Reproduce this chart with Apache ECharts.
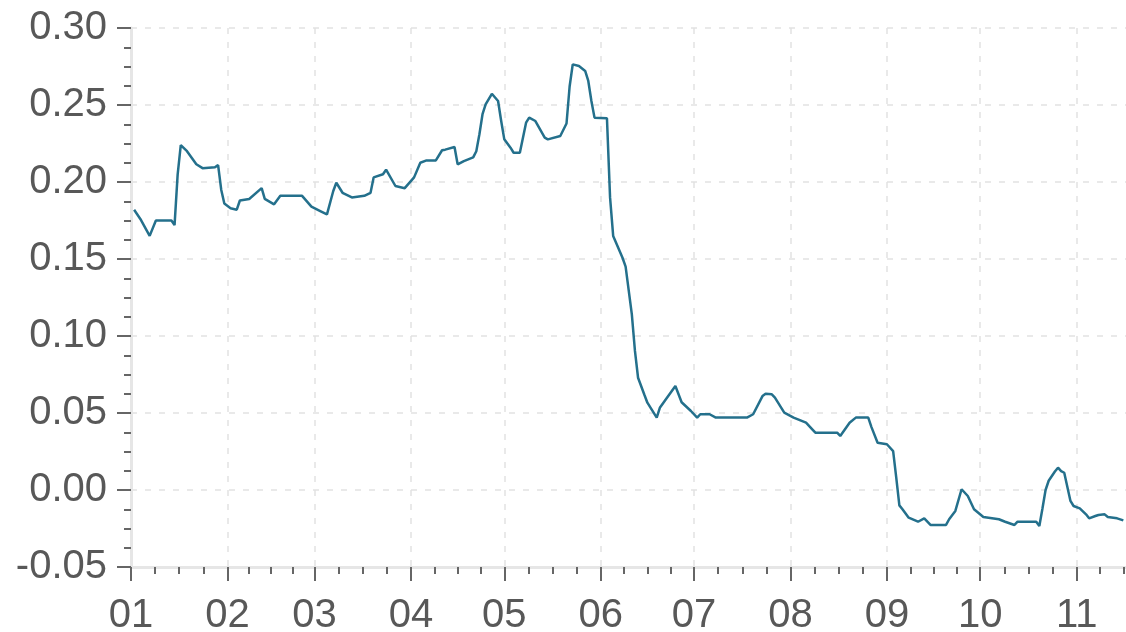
<!DOCTYPE html>
<html>
<head>
<meta charset="utf-8">
<script src="https://cdn.jsdelivr.net/npm/echarts@6/dist/echarts.min.js"></script>
<style>
html,body{margin:0;padding:0;background:#fff;overflow:hidden;}
#chart{width:1126px;height:632px;}
</style>
</head>
<body>
<div id="chart"></div>
<script>
const dates = [
'2019-01-02','2019-01-04','2019-01-07','2019-01-09','2019-01-14','2019-01-15','2019-01-16','2019-01-17','2019-01-19','2019-01-22',
'2019-01-24','2019-01-28','2019-01-29','2019-01-30','2019-01-31','2019-02-02','2019-02-04','2019-02-05','2019-02-08','2019-02-12',
'2019-02-13','2019-02-16','2019-02-18','2019-02-25','2019-02-28','2019-03-03','2019-03-05','2019-03-07','2019-03-08','2019-03-10',
'2019-03-13','2019-03-17','2019-03-19','2019-03-20','2019-03-23','2019-03-24','2019-03-27','2019-03-30','2019-04-02','2019-04-04',
'2019-04-06','2019-04-09','2019-04-11','2019-04-12','2019-04-15','2019-04-16','2019-04-18','2019-04-21','2019-04-22','2019-04-23',
'2019-04-24','2019-04-25','2019-04-27','2019-04-29','2019-04-30','2019-05-01','2019-05-03','2019-05-04','2019-05-06','2019-05-08',
'2019-05-09','2019-05-11','2019-05-14','2019-05-15','2019-05-19','2019-05-21','2019-05-22','2019-05-23','2019-05-25','2019-05-27',
'2019-05-28','2019-05-29','2019-05-30','2019-06-03','2019-06-04','2019-06-05','2019-06-08','2019-06-09','2019-06-11','2019-06-12',
'2019-06-13','2019-06-15','2019-06-16','2019-06-19','2019-06-20','2019-06-25','2019-06-27','2019-06-30','2019-07-02','2019-07-03',
'2019-07-06','2019-07-08','2019-07-18','2019-07-20','2019-07-23','2019-07-24','2019-07-26','2019-07-27','2019-07-30','2019-08-02',
'2019-08-06','2019-08-08','2019-08-09','2019-08-16','2019-08-17','2019-08-20','2019-08-22','2019-08-26','2019-08-27','2019-08-29',
'2019-09-01','2019-09-03','2019-09-04','2019-09-05','2019-09-06','2019-09-08','2019-09-11','2019-09-13','2019-09-15','2019-09-20',
'2019-09-21','2019-09-23','2019-09-25','2019-09-27','2019-09-29','2019-10-02','2019-10-07','2019-10-09','2019-10-12','2019-10-13',
'2019-10-19','2019-10-20','2019-10-21','2019-10-22','2019-10-23','2019-10-25','2019-10-26','2019-10-27','2019-10-28','2019-10-30',
'2019-10-31','2019-11-02','2019-11-04','2019-11-05','2019-11-07','2019-11-08','2019-11-10','2019-11-11','2019-11-14','2019-11-16'
];
const values = [
0.182,0.176,0.165,0.175,0.175,0.172,0.205,0.224,0.220,0.2115,
0.209,0.2095,0.211,0.195,0.186,0.183,0.182,0.188,0.189,0.196,
0.189,0.1855,0.191,0.191,0.184,0.181,0.179,0.194,0.1995,0.193,
0.190,0.191,0.193,0.203,0.205,0.208,0.1974,0.196,0.203,0.2125,
0.214,0.214,0.2206,0.221,0.2227,0.2115,0.2136,0.216,0.220,0.231,
0.244,0.2504,0.2573,0.2526,0.2396,0.2277,0.2223,0.219,0.219,0.2385,
0.2418,0.2396,0.2288,0.2277,0.2299,0.238,0.262,0.2764,0.2753,0.2721,
0.2656,0.2526,0.2418,0.2414,0.190,0.165,0.1508,0.145,0.114,0.0903,
0.0729,0.062,0.0567,0.047,0.0534,0.0675,0.057,0.0513,0.047,0.0492,
0.0492,0.047,0.047,0.0492,0.061,0.0625,0.0621,0.060,0.0502,0.047,
0.0437,0.0394,0.0372,0.0372,0.0351,0.0437,0.047,0.047,0.041,0.0307,
0.0297,0.0253,0.008,-0.010,-0.0125,-0.018,-0.0206,-0.0184,-0.0227,-0.0227,
-0.019,-0.0136,0.0005,-0.0039,-0.0125,-0.0175,-0.019,-0.0206,-0.0227,-0.0206,
-0.0206,-0.0234,-0.012,0.000,0.006,0.012,0.0145,0.0123,0.0112,-0.0071,
-0.0104,-0.0119,-0.0158,-0.0184,-0.0169,-0.0162,-0.0158,-0.0175,-0.0184,-0.0197
];
// x range: the visible window ends mid-November; the axis runs to 1 Dec and is cropped by the canvas edge
const xMin = '2019-01-01';
const xMax = '2019-12-01';
const yTicks = [-0.05, 0.30, 0.05];

const chart = echarts.init(document.getElementById('chart'), null, {renderer:'canvas'});
const labelFont = {fontFamily:'Liberation Sans, Arial, sans-serif', fontSize:40, color:'#585858'};
chart.setOption({
  animation:false,
  grid:{left:131, right:-44, top:28, bottom:65, containLabel:false, outerBoundsMode:'none'},
  xAxis:{
    type:'time', min:xMin, max:xMax, splitNumber:11,
    minInterval:28*86400000, maxInterval:31*86400000,
    axisLine:{show:true, onZero:false, lineStyle:{color:'#e6e6e6', width:3}},
    axisTick:{show:true, length:14, lineStyle:{color:'#666', width:2}},
    minorTick:{show:true, splitNumber:4, length:7, lineStyle:{color:'#666', width:2}},
    splitLine:{show:true, lineStyle:{color:'#e2e2e2', type:[6,8], width:1.5}},
    axisLabel:Object.assign({formatter:'{MM}', margin:29, hideOverlap:false}, labelFont)
  },
  yAxis:{
    type:'value', min:yTicks[0], max:yTicks[1], interval:yTicks[2],
    axisLine:{show:true, lineStyle:{color:'#e6e6e6', width:3}},
    axisTick:{show:true, length:14, lineStyle:{color:'#666', width:2}},
    minorTick:{show:true, splitNumber:4, length:7, lineStyle:{color:'#666', width:2}},
    splitLine:{show:true, lineStyle:{color:'#e2e2e2', type:[6,8], width:1.5}},
    axisLabel:Object.assign({margin:24, formatter:v=>v.toFixed(2)}, labelFont)
  },
  series:[{
    type:'line', showSymbol:false, symbol:'none',
    data:dates.map((d,i)=>[d, values[i]]),
    lineStyle:{color:'#24708c', width:2.5}
  }]
});
</script>
</body>
</html>
